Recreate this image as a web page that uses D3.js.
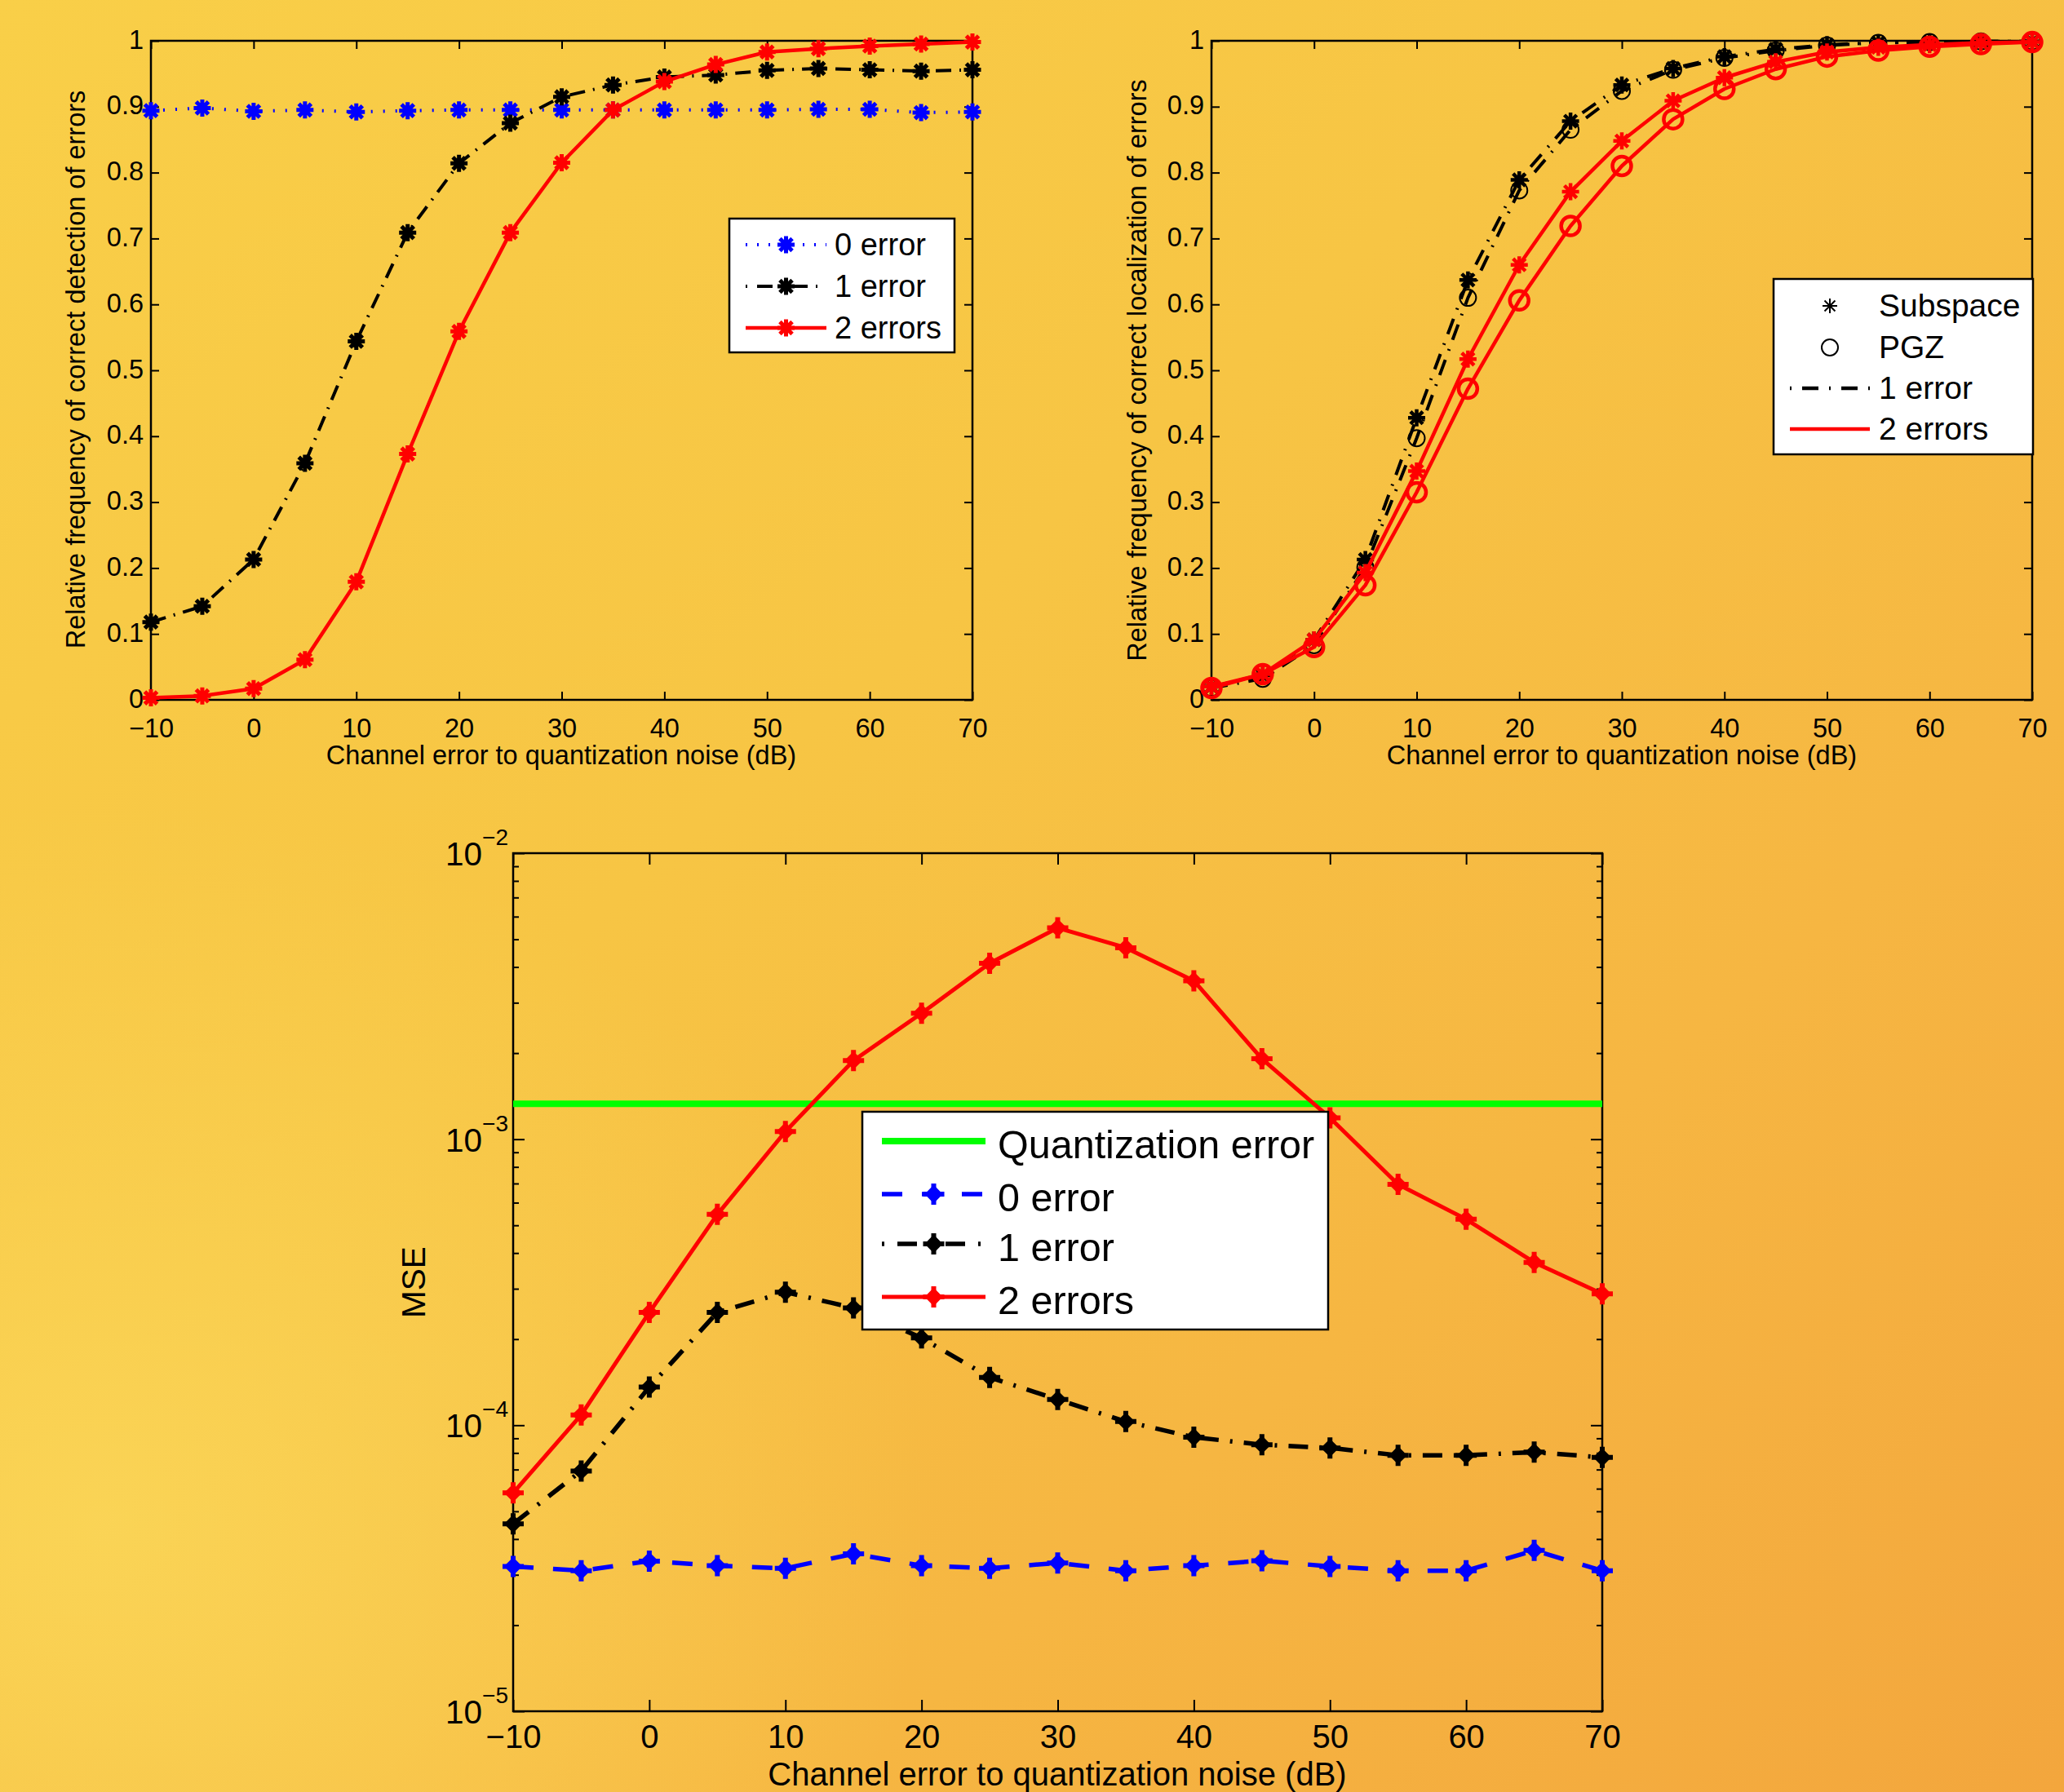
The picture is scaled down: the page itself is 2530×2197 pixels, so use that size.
<!DOCTYPE html>
<html>
<head>
<meta charset="utf-8">
<script src="https://cdn.jsdelivr.net/npm/d3@7"></script>
<style>
    body { margin: 0; background: #f7c445; }
    svg { display: block; }
</style>
</head>
<body>
<svg id="fig"></svg>
<script>
// channel error to quantization noise (dB)
var snr = [-10, -5, 0, 5, 10, 15, 20, 25, 30, 35, 40, 45, 50, 55, 60, 65, 70];
var xTicks = [-10, 0, 10, 20, 30, 40, 50, 60, 70];
var yTicksFreq = [0, 0.1, 0.2, 0.3, 0.4, 0.5, 0.6, 0.7, 0.8, 0.9, 1];
var yTicksMse = [1e-5, 1e-4, 1e-3, 1e-2];

// panel 1 : correct detection
var det0 = [0.894, 0.898, 0.893, 0.895, 0.892, 0.894, 0.895, 0.895, 0.895, 0.895, 0.895, 0.895, 0.895, 0.896, 0.896, 0.891, 0.892];
var det1 = [0.118, 0.142, 0.213, 0.359, 0.544, 0.709, 0.814, 0.875, 0.915, 0.933, 0.945, 0.948, 0.955, 0.958, 0.956, 0.954, 0.956];
var det2 = [0.003, 0.006, 0.017, 0.061, 0.179, 0.373, 0.559, 0.709, 0.815, 0.895, 0.938, 0.964, 0.983, 0.988, 0.992, 0.995, 0.998];

// panel 2 : correct localization
var locSub1 = [0.020, 0.037, 0.091, 0.213, 0.428, 0.637, 0.789, 0.878, 0.933, 0.958, 0.976, 0.987, 0.994, 0.997, 0.998, 0.999, 0.999];
var locPgz1 = [0.018, 0.032, 0.083, 0.201, 0.397, 0.610, 0.773, 0.865, 0.924, 0.956, 0.974, 0.985, 0.993, 0.997, 0.998, 0.999, 0.999];
var locSub2 = [0.020, 0.039, 0.091, 0.193, 0.347, 0.517, 0.660, 0.771, 0.848, 0.909, 0.944, 0.968, 0.983, 0.990, 0.994, 0.997, 0.998];
var locPgz2 = [0.018, 0.039, 0.080, 0.174, 0.315, 0.472, 0.606, 0.719, 0.810, 0.881, 0.927, 0.957, 0.976, 0.985, 0.991, 0.995, 0.998];

// panel 3 : MSE
var quantErr = 1.33e-3;
var mse0 = [3.21e-5, 3.10e-5, 3.35e-5, 3.23e-5, 3.16e-5, 3.55e-5, 3.23e-5, 3.16e-5, 3.30e-5, 3.10e-5, 3.23e-5, 3.36e-5, 3.21e-5, 3.10e-5, 3.10e-5, 3.65e-5, 3.10e-5];
var mse1 = [4.52e-5, 6.92e-5, 1.36e-4, 2.48e-4, 2.92e-4, 2.57e-4, 2.02e-4, 1.47e-4, 1.23e-4, 1.03e-4, 9.08e-5, 8.55e-5, 8.33e-5, 7.85e-5, 7.85e-5, 8.05e-5, 7.72e-5];
var mse2 = [5.8e-5, 1.087e-4, 2.48e-4, 5.46e-4, 1.064e-3, 1.884e-3, 2.757e-3, 4.12e-3, 5.48e-3, 4.67e-3, 3.58e-3, 1.91e-3, 1.188e-3, 6.95e-4, 5.25e-4, 3.71e-4, 2.88e-4];

var FONT = "'Liberation Sans', Arial, Helvetica, sans-serif";
var BLUE = "#0000ff", RED = "#ff0000", BLACK = "#000000", GREEN = "#00ff00";

var svg = d3.select("#fig").attr("width", 2530).attr("height", 2197);

// fond jaune / orange
var defs = svg.append("defs");
var lg = defs.append("linearGradient").attr("id", "bg")
    .attr("x1", 0).attr("y1", 0).attr("x2", 1).attr("y2", 1);
lg.append("stop").attr("offset", 0).attr("stop-color", "#f9cf48");
lg.append("stop").attr("offset", 0.4).attr("stop-color", "#f7c544");
lg.append("stop").attr("offset", 0.7).attr("stop-color", "#f6b642");
lg.append("stop").attr("offset", 1).attr("stop-color", "#f3a63d");
var rg = defs.append("radialGradient").attr("id", "glow")
    .attr("cx", 0.05).attr("cy", 0.85).attr("r", 0.4);
rg.append("stop").attr("offset", 0).attr("stop-color", "#fbd85a").attr("stop-opacity", 0.8);
rg.append("stop").attr("offset", 1).attr("stop-color", "#fbd85a").attr("stop-opacity", 0);
svg.append("rect").attr("width", 2530).attr("height", 2197).attr("fill", "url(#bg)");
svg.append("rect").attr("width", 2530).attr("height", 2197).attr("fill", "url(#glow)");

function asteriskPath(r) {
    var a = r * 0.72;
    return "M" + (-r) + ",0L" + r + ",0M0," + (-r) + "L0," + r +
        "M" + (-a) + "," + (-a) + "L" + a + "," + a + "M" + (-a) + "," + a + "L" + a + "," + (-a);
}
function plusPath(r) {
    return "M" + (-r) + ",0L" + r + ",0M0," + (-r) + "L0," + r;
}
function diamondPath(d) {
    return "M0," + (-d) + "L" + d + ",0L0," + d + "L" + (-d) + ",0Z";
}

function marker(g, cx, cy, st) {
    var m = g.append("g").attr("transform", "translate(" + cx + "," + cy + ")");
    if (st.marker === "star") {
        m.append("path").attr("d", asteriskPath(st.mr)).attr("stroke", st.color)
            .attr("stroke-width", st.msw).attr("fill", "none");
    } else if (st.marker === "circle") {
        m.append("circle").attr("r", st.mr).attr("stroke", st.color)
            .attr("stroke-width", st.msw).attr("fill", "none");
    } else if (st.marker === "plus") {
        m.append("path").attr("d", diamondPath(st.mr * 0.7)).attr("fill", st.color)
            .attr("stroke", st.color).attr("stroke-width", 3).attr("stroke-linejoin", "round");
        m.append("path").attr("d", plusPath(st.mr)).attr("stroke", st.color)
            .attr("stroke-width", st.msw).attr("fill", "none");
    }
}

function series(g, x, y, vals, st) {
    var pts = snr.map(function(s, i) { return [s, vals[i]]; });
    var line = d3.line().x(function(d) { return x(d[0]); }).y(function(d) { return y(d[1]); });
    g.append("path").datum(pts)
        .attr("d", line)
        .attr("fill", "none")
        .attr("stroke", st.color)
        .attr("stroke-width", st.width)
        .attr("stroke-dasharray", st.dash || null)
        .attr("stroke-linejoin", "round");
    if (st.marker) {
        pts.forEach(function(d) { marker(g, x(d[0]), y(d[1]), st); });
    }
}

// cadre + graduations dans les 4 côtés
function frame(g, x, y, o) {
    var x0 = x.range()[0], x1 = x.range()[1], yb = y.range()[0], yt = y.range()[1];
    g.append("rect").attr("x", x0).attr("y", yt).attr("width", x1 - x0).attr("height", yb - yt)
        .attr("fill", "none").attr("stroke", "#000").attr("stroke-width", 2.5);

    var axes = [
        {ax: d3.axisBottom(x).tickValues(xTicks).tickFormat(d3.format("d")).tickPadding(o.xPad), t: "translate(0," + yb + ")"},
        {ax: d3.axisTop(x).tickValues(xTicks).tickFormat(""), t: "translate(0," + yt + ")"},
        {ax: d3.axisLeft(y).tickValues(o.yTicks).tickFormat(o.yFmt).tickPadding(o.yPad), t: "translate(" + x0 + ",0)", left: true},
        {ax: d3.axisRight(y).tickValues(o.yTicks).tickFormat(""), t: "translate(" + x1 + ",0)"}
    ];
    axes.forEach(function(a) {
        var ag = g.append("g").attr("transform", a.t)
            .call(a.ax.tickSize(-o.tl))
            .attr("font-size", o.fs).attr("font-family", FONT);
        ag.select(".domain").remove();
        ag.selectAll(".tick line").attr("stroke-width", 2);
        if (a.left) ag.selectAll(".tick text").attr("dy", "0.28em");
    });
    if (o.minor) {
        [d3.axisLeft(y), d3.axisRight(y)].forEach(function(ax, i) {
            var ag = g.append("g").attr("transform", "translate(" + (i ? x1 : x0) + ",0)")
                .call(ax.tickValues(o.minor).tickFormat("").tickSize(-o.minorTl));
            ag.select(".domain").remove();
            ag.selectAll(".tick line").attr("stroke-width", 2);
        });
    }
}

function legend(g, box, items, fs) {
    g.append("rect").attr("x", box.x).attr("y", box.y).attr("width", box.w).attr("height", box.h)
        .attr("fill", "#fff").attr("stroke", "#000").attr("stroke-width", 2.5);
    items.forEach(function(it, i) {
        var cy = box.rows[i];
        if (it.st.lineOn !== false) {
            g.append("line").attr("x1", box.l0).attr("x2", box.l1).attr("y1", cy).attr("y2", cy)
                .attr("stroke", it.st.color).attr("stroke-width", it.st.width)
                .attr("stroke-dasharray", it.st.legDash || it.st.dash || null);
        }
        if (it.st.marker) marker(g, (box.l0 + box.l1) / 2, cy, it.st);
        g.append("text").attr("x", box.tx).attr("y", cy + box.dy)
            .attr("font-family", FONT).attr("font-size", fs).text(it.label);
    });
}

function yLabel(g, x, yc, txt, fs) {
    g.append("text").attr("transform", "translate(" + x + "," + yc + ") rotate(-90)")
        .attr("text-anchor", "middle").attr("font-family", FONT).attr("font-size", fs).text(txt);
}
function xLabel(g, xc, y, txt, fs) {
    g.append("text").attr("x", xc).attr("y", y)
        .attr("text-anchor", "middle").attr("font-family", FONT).attr("font-size", fs).text(txt);
}

var fmtFreq = function(d) { return String(Math.round(d * 10) / 10); };

/* --- panel 1 --- */
var x1 = d3.scaleLinear().domain([-10, 70]).range([185, 1192]);
var y1 = d3.scaleLinear().domain([0, 1]).range([858, 50]);
var g1 = svg.append("g");
frame(g1, x1, y1, {yTicks: yTicksFreq, yFmt: fmtFreq, tl: 10, fs: 32.5, xPad: 23, yPad: 9});
var s1 = [
    {color: BLUE, width: 4, dash: "2,13", marker: "star", mr: 10.5, msw: 5, legDash: "2,12"},
    {color: BLACK, width: 4, dash: "19,10,2,10", marker: "star", mr: 10.5, msw: 5, legDash: "2,12,19,10"},
    {color: RED, width: 4.5, marker: "star", mr: 10.5, msw: 5}
];
series(g1, x1, y1, det0, s1[0]);
series(g1, x1, y1, det1, s1[1]);
series(g1, x1, y1, det2, s1[2]);
xLabel(g1, 688, 937, "Channel error to quantization noise (dB)", 32.5);
yLabel(g1, 104, 453, "Relative frequency of correct detection of errors", 32.5);
legend(g1, {x: 894, y: 268, w: 276, h: 164, rows: [300, 351, 402], l0: 914, l1: 1013, tx: 1023, dy: 13},
    [{label: "0 error", st: s1[0]}, {label: "1 error", st: s1[1]}, {label: "2 errors", st: s1[2]}], 38);

/* --- panel 2 --- */
var x2 = d3.scaleLinear().domain([-10, 70]).range([1485, 2491]);
var y2 = d3.scaleLinear().domain([0, 1]).range([858, 50]);
var g2 = svg.append("g");
frame(g2, x2, y2, {yTicks: yTicksFreq, yFmt: fmtFreq, tl: 10, fs: 32.5, xPad: 23, yPad: 9});
var s2 = {
    sub1: {color: BLACK, width: 4, dash: "20,12,2,12", marker: "star", mr: 10.5, msw: 4.5},
    pgz1: {color: BLACK, width: 4, dash: "20,12,2,12", marker: "circle", mr: 10, msw: 2},
    sub2: {color: RED, width: 4.5, marker: "star", mr: 10.5, msw: 4.5},
    pgz2: {color: RED, width: 4.5, marker: "circle", mr: 11.5, msw: 4.5}
};
series(g2, x2, y2, locSub1, s2.sub1);
series(g2, x2, y2, locPgz1, s2.pgz1);
series(g2, x2, y2, locSub2, s2.sub2);
series(g2, x2, y2, locPgz2, s2.pgz2);
xLabel(g2, 1988, 937, "Channel error to quantization noise (dB)", 32.5);
yLabel(g2, 1405, 454, "Relative frequency of correct localization of errors", 32.5);
legend(g2, {x: 2174, y: 342, w: 318, h: 215, rows: [375, 426, 476, 526], l0: 2194, l1: 2292, tx: 2303, dy: 13},
    [{label: "Subspace", st: {color: BLACK, lineOn: false, marker: "star", mr: 9, msw: 2}},
     {label: "PGZ", st: {color: BLACK, lineOn: false, marker: "circle", mr: 10, msw: 2}},
     {label: "1 error", st: {color: BLACK, width: 4.5, legDash: "2,13,20,13"}},
     {label: "2 errors", st: {color: RED, width: 4.5}}], 39);

/* --- panel 3 --- */
var x3 = d3.scaleLinear().domain([-10, 70]).range([629, 1964]);
var y3 = d3.scaleLog().domain([1e-5, 1e-2]).range([2098, 1046]);
var minor = [];
yTicksMse.slice(0, 3).forEach(function(p) {
    [2, 3, 4, 5, 6, 7, 8, 9].forEach(function(k) { minor.push(k * p); });
});
var g3 = svg.append("g");
frame(g3, x3, y3, {yTicks: yTicksMse, yFmt: function() { return ""; }, tl: 14, fs: 40, xPad: 17, yPad: 6,
    minor: minor, minorTl: 7});
// labels 10^n
g3.append("g").selectAll("text").data(yTicksMse).enter().append("text")
    .attr("x", x3.range()[0] - 6)
    .attr("y", function(d) { return y3(d) + 15; })
    .attr("text-anchor", "end")
    .attr("font-family", FONT).attr("font-size", 40.5)
    .each(function(d) {
        var t = d3.select(this);
        t.append("tspan").text("10");
        t.append("tspan").attr("dy", -25).attr("font-size", 28)
            .text("\u2212" + Math.round(-Math.log10(d)));
    });

var s3 = [
    {color: GREEN, width: 8},
    {color: BLUE, width: 5.5, dash: "25,24", marker: "plus", mr: 13, msw: 6, legDash: "25,24"},
    {color: BLACK, width: 5.5, dash: "24,14,3,14", marker: "plus", mr: 13, msw: 6, legDash: "3,16,24,16"},
    {color: RED, width: 5, marker: "plus", mr: 13, msw: 6}
];
g3.append("line")
    .attr("x1", x3(snr[0])).attr("x2", x3(snr[snr.length - 1]))
    .attr("y1", y3(quantErr)).attr("y2", y3(quantErr))
    .attr("stroke", GREEN).attr("stroke-width", 8);
series(g3, x3, y3, mse0, s3[1]);
series(g3, x3, y3, mse1, s3[2]);
series(g3, x3, y3, mse2, s3[3]);
xLabel(g3, 1296, 2188.5, "Channel error to quantization noise (dB)", 40);
yLabel(g3, 521, 1572, "MSE", 40.5);
legend(g3, {x: 1057, y: 1363, w: 571, h: 267, rows: [1399, 1464, 1525, 1590], l0: 1081, l1: 1208, tx: 1223, dy: 21},
    [{label: "Quantization error", st: s3[0]}, {label: "0 error", st: s3[1]},
     {label: "1 error", st: s3[2]}, {label: "2 errors", st: s3[3]}], 48.5);
</script>
</body>
</html>
